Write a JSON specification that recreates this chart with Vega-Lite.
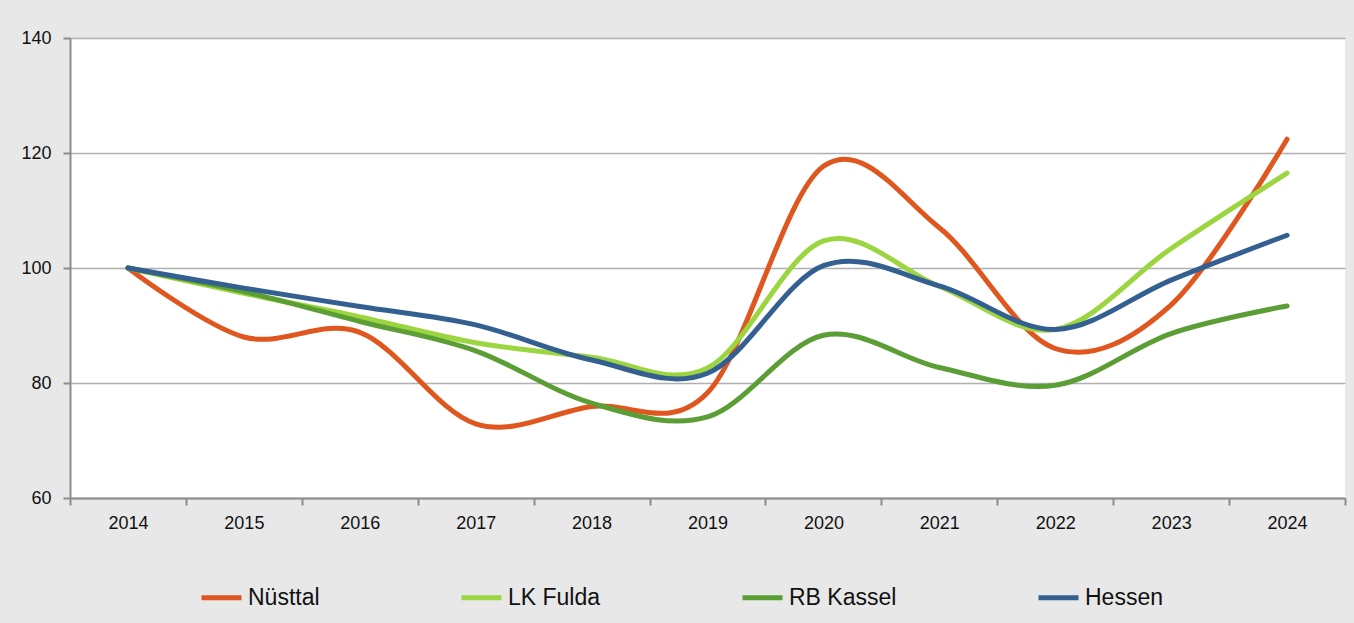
{
  "$schema": "https://vega.github.io/schema/vega-lite/v6.json",
  "width": 1275,
  "height": 460,
  "autosize": {"type": "none"},
  "padding": {"left": 70, "top": 38, "right": 9, "bottom": 125},
  "background": "#e8e8e8",
  "config": {
    "view": {"fill": "white", "stroke": null},
    "font": "Liberation Sans, Arial, sans-serif"
  },
  "data": {
    "values": [
      {"Jahr": "2014", "Gebiet": "Nüsttal", "Index": 100},
      {"Jahr": "2015", "Gebiet": "Nüsttal", "Index": 88.0},
      {"Jahr": "2016", "Gebiet": "Nüsttal", "Index": 88.8},
      {"Jahr": "2017", "Gebiet": "Nüsttal", "Index": 72.9},
      {"Jahr": "2018", "Gebiet": "Nüsttal", "Index": 75.9},
      {"Jahr": "2019", "Gebiet": "Nüsttal", "Index": 78.3},
      {"Jahr": "2020", "Gebiet": "Nüsttal", "Index": 117.7},
      {"Jahr": "2021", "Gebiet": "Nüsttal", "Index": 107.0},
      {"Jahr": "2022", "Gebiet": "Nüsttal", "Index": 86.0},
      {"Jahr": "2023", "Gebiet": "Nüsttal", "Index": 93.6},
      {"Jahr": "2024", "Gebiet": "Nüsttal", "Index": 122.4},
      {"Jahr": "2014", "Gebiet": "LK Fulda", "Index": 100},
      {"Jahr": "2015", "Gebiet": "LK Fulda", "Index": 95.6},
      {"Jahr": "2016", "Gebiet": "LK Fulda", "Index": 91.5},
      {"Jahr": "2017", "Gebiet": "LK Fulda", "Index": 87.0},
      {"Jahr": "2018", "Gebiet": "LK Fulda", "Index": 84.5},
      {"Jahr": "2019", "Gebiet": "LK Fulda", "Index": 82.6},
      {"Jahr": "2020", "Gebiet": "LK Fulda", "Index": 104.7},
      {"Jahr": "2021", "Gebiet": "LK Fulda", "Index": 96.8},
      {"Jahr": "2022", "Gebiet": "LK Fulda", "Index": 89.3},
      {"Jahr": "2023", "Gebiet": "LK Fulda", "Index": 103.4},
      {"Jahr": "2024", "Gebiet": "LK Fulda", "Index": 116.5},
      {"Jahr": "2014", "Gebiet": "RB Kassel", "Index": 100},
      {"Jahr": "2015", "Gebiet": "RB Kassel", "Index": 95.9},
      {"Jahr": "2016", "Gebiet": "RB Kassel", "Index": 90.7},
      {"Jahr": "2017", "Gebiet": "RB Kassel", "Index": 85.6},
      {"Jahr": "2018", "Gebiet": "RB Kassel", "Index": 76.5},
      {"Jahr": "2019", "Gebiet": "RB Kassel", "Index": 74.1},
      {"Jahr": "2020", "Gebiet": "RB Kassel", "Index": 88.3},
      {"Jahr": "2021", "Gebiet": "RB Kassel", "Index": 82.7},
      {"Jahr": "2022", "Gebiet": "RB Kassel", "Index": 79.6},
      {"Jahr": "2023", "Gebiet": "RB Kassel", "Index": 88.6},
      {"Jahr": "2024", "Gebiet": "RB Kassel", "Index": 93.4},
      {"Jahr": "2014", "Gebiet": "Hessen", "Index": 100},
      {"Jahr": "2015", "Gebiet": "Hessen", "Index": 96.5},
      {"Jahr": "2016", "Gebiet": "Hessen", "Index": 93.3},
      {"Jahr": "2017", "Gebiet": "Hessen", "Index": 90.1},
      {"Jahr": "2018", "Gebiet": "Hessen", "Index": 84.0},
      {"Jahr": "2019", "Gebiet": "Hessen", "Index": 81.7},
      {"Jahr": "2020", "Gebiet": "Hessen", "Index": 100.4},
      {"Jahr": "2021", "Gebiet": "Hessen", "Index": 96.9},
      {"Jahr": "2022", "Gebiet": "Hessen", "Index": 89.3},
      {"Jahr": "2023", "Gebiet": "Hessen", "Index": 97.9},
      {"Jahr": "2024", "Gebiet": "Hessen", "Index": 105.7}
    ]
  },
  "mark": {"type": "line", "interpolate": "cardinal", "strokeWidth": 5, "strokeCap": "round", "strokeJoin": "round"},
  "encoding": {
    "x": {
      "field": "Jahr",
      "type": "ordinal",
      "bandPosition": 0.5,
      "scale": {"type": "band", "paddingInner": 0, "paddingOuter": 0},
      "axis": {
        "title": null,
        "labelAngle": 0,
        "tickBand": "extent",
        "grid": false,
        "domainColor": "#8c8c8c",
        "domainWidth": 2,
        "tickColor": "#8c8c8c",
        "tickWidth": 2,
        "tickSize": 7,
        "labelFontSize": 18,
        "labelColor": "#111111",
        "labelPadding": 9
      }
    },
    "y": {
      "field": "Index",
      "type": "quantitative",
      "scale": {"domain": [60, 140], "nice": false, "zero": false},
      "axis": {
        "title": null,
        "values": [60, 80, 100, 120, 140],
        "grid": true,
        "gridColor": "#b0b0b0",
        "gridWidth": 1.5,
        "domainColor": "#8c8c8c",
        "domainWidth": 2,
        "tickColor": "#8c8c8c",
        "tickWidth": 2,
        "tickSize": 7,
        "labelFontSize": 18,
        "labelColor": "#111111",
        "labelPadding": 12
      }
    },
    "color": {
      "field": "Gebiet",
      "type": "nominal",
      "sort": ["Nüsttal", "LK Fulda", "RB Kassel", "Hessen"],
      "scale": {
        "domain": ["Nüsttal", "LK Fulda", "RB Kassel", "Hessen"],
        "range": ["#e0561f", "#9bd53f", "#5b9e35", "#335f91"]
      },
      "legend": {
        "title": null,
        "orient": "none",
        "direction": "horizontal",
        "legendX": 129,
        "legendY": 537,
        "symbolType": "stroke",
        "symbolSize": 1600,
        "symbolStrokeWidth": 5,
        "labelFontSize": 23,
        "labelColor": "#111111",
        "labelOffset": 4,
        "columnPadding": 131
      }
    }
  }
}
